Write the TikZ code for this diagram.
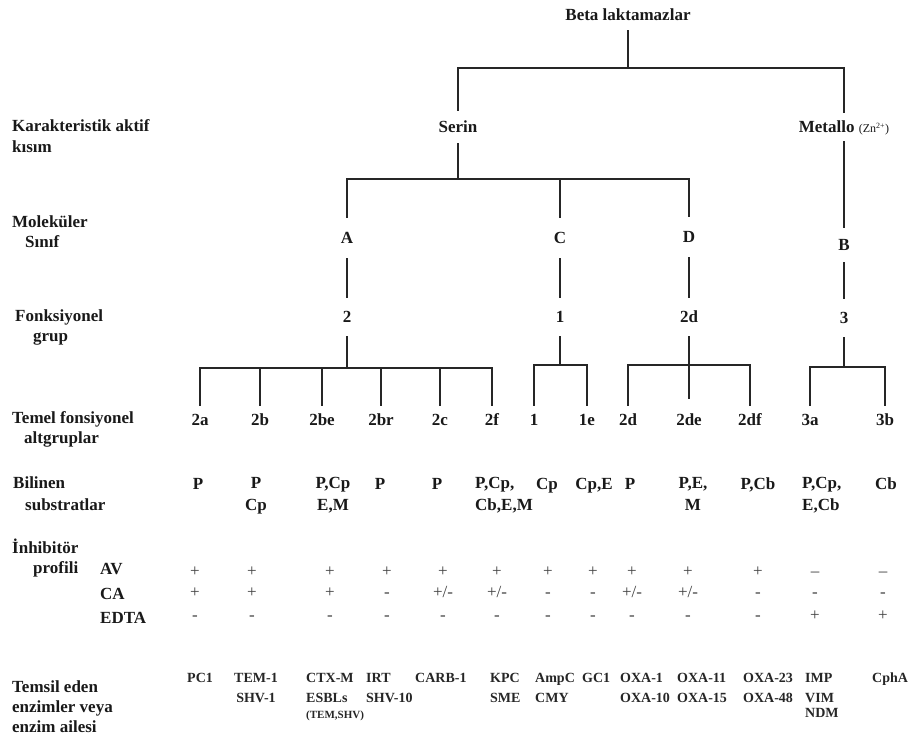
\documentclass[tikz,border=0pt]{standalone}
\usepackage{fontspec}
\setmainfont{Liberation Serif}
\newcommand\pmsgn{+/-}
\begin{document}
\begin{tikzpicture}[x=1pt,y=-1pt,
  every node/.style={font=\bfseries\fontsize{17}{20}\selectfont, text=black!90, inner sep=0pt},
  tree/.style={line width=2pt, draw=black!85},
  hdr/.style={anchor=base west, align=left},
  lab/.style={text height=11.5pt, text depth=0pt},
  lvl/.style={lab, minimum height=40pt},
  grp/.style={lab, minimum height=38pt},
  sub/.style={lab, minimum height=28pt},
  subst/.style={anchor=base, align=center, font=\bfseries\fontsize{17}{22}\selectfont},
  substl/.style={subst, anchor=base west, align=left},
  sign/.style={font=\mdseries\fontsize{17}{20}\selectfont, text=black!75, text height=8.5pt, text depth=0pt},
  enz/.style={anchor=base west, align=left, text=black!85, font=\bfseries\fontsize{14}{20}\selectfont},
  enzc/.style={enz, anchor=base, align=center}
]
\useasboundingbox (0,0) rectangle (911,735);

% row headers (base = baseline of last line)
\node[hdr] (hk) at (12,153) {Karakteristik aktif\\[1pt]kısım};
\node[hdr] (hm) at (12,248) {Moleküler\\\hspace*{13pt}Sınıf};
\node[hdr] (hf) at (15,342) {Fonksiyonel\\\hspace*{18pt}grup};
\node[hdr] (ht) at (12,443) {Temel fonsiyonel\\\hspace*{12pt}altgruplar};
\node[hdr] (hb) at (13,510) {Bilinen\\[2pt]\hspace*{12pt}substratlar};
\node[hdr] (hi) at (12,573) {İnhibitör\\\hspace*{21pt}profili};
\node[hdr] (hav) at (100,574) {AV};
\node[hdr] (hca) at (100,599) {CA};
\node[hdr] (hed) at (100,623) {EDTA};
\node[hdr] (hte) at (12,732) {Temsil eden\\enzimler veya\\enzim ailesi};

% tree nodes
\node[lab, minimum height=30pt] (beta) at (628,15) {Beta laktamazlar};
\node[lab, minimum height=32pt] (serin) at (458,127) {Serin};
\node[lab, minimum height=28pt] (metallo) at (844,127) {Metallo {\mdseries\fontsize{12}{14}\selectfont(Zn\textsuperscript{2+})}};
\node[lvl] (A) at (347,238) {A};
\node[lvl] (C) at (560,238) {C};
\node[lvl] (D) at (689,237) {D};
\node[lab, minimum height=34pt] (B) at (844,245) {B};
\node[grp] (g2) at (347,317) {2};
\node[grp] (g1) at (560,317) {1};
\node[grp] (g2d) at (689,317) {2d};
\node[grp] (g3) at (844,318) {3};

\node[sub] (s2a) at (200,420) {2a};
\node[sub] (s2b) at (260,420) {2b};
\node[sub] (s2be) at (322,420) {2be};
\node[sub] (s2br) at (381,420) {2br};
\node[sub] (s2c) at (440,420) {2c};
\node[sub] (s2f) at (492,420) {2f};
\node[sub] (s1) at (534,420) {1};
\node[sub] (s1e) at (587,420) {1e};
\node[sub] (s2d) at (628,420) {2d};
\node[sub] (s2de) at (689,420) {2de};
\node[sub] (s2df) at (750,420) {2df};
\node[sub] (s3a) at (810,420) {3a};
\node[sub] (s3b) at (885,420) {3b};

% connectors
\coordinate (top) at (628,68);
\coordinate (serbar) at (458,179);
\coordinate (barA) at (347,368);
\coordinate (barC) at (560,365);
\coordinate (barD) at (689,365);
\coordinate (barB) at (844,367);
\draw[tree] (beta.south) -- (top);
\draw[tree] (serin.north) |- (top) -| (metallo.north);
\draw[tree] (serin.south) -- (serbar);
\draw[tree] (A.north) |- (serbar) -| (D.north);
\draw[tree] (C.north) -- (C.north |- serbar);
\draw[tree] (A.south) -- (g2.north);
\draw[tree] (C.south) -- (g1.north);
\draw[tree] (D.south) -- (g2d.north);
\draw[tree] (metallo.south) -- (B.north);
\draw[tree] (B.south) -- (g3.north);
\draw[tree] (g2.south) -- (barA);
\draw[tree] (s2a.north) |- (barA) -| (s2f.north);
\foreach \n in {s2b,s2be,s2br,s2c} \draw[tree] (\n.north) -- (\n.north |- barA);
\draw[tree] (g1.south) -- (barC);
\draw[tree] (s1.north) |- (barC) -| (s1e.north);
\draw[tree] (g2d.south) -- (barD);
\draw[tree] (s2d.north) |- (barD) -| (s2df.north);
\draw[tree] ([yshift=7pt]s2de.north) -- (s2de.north |- barD);
\draw[tree] (g3.south) -- (barB);
\draw[tree] (s3a.north) |- (barB) -| (s3b.north);

% substrates
\node[subst] (b2a) at (198,489) {P};
\node[subst] (b2b) at (256,510) {P\\Cp};
\node[subst] (b2be) at (333,510) {P,Cp\\E,M};
\node[subst] (b2br) at (380,489) {P};
\node[subst] (b2c) at (437,489) {P};
\node[substl] (b2f) at (475,510) {P,Cp,\\Cb,E,M};
\node[subst] (b1) at (547,489) {Cp};
\node[subst] (b1e) at (594,489) {Cp,E};
\node[subst] (b2d) at (630,489) {P};
\node[subst] (b2de) at (693,510) {P,E,\\M};
\node[subst] (b2df) at (758,489) {P,Cb};
\node[substl] (b3a) at (802,510) {P,Cp,\\E,Cb};
\node[subst] (b3b) at (886,489) {Cb};

% inhibitor profile
\foreach \x/\s [count=\i] in {195/+,252/+,330/+,387/+,443/+,497/+,548/+,593/+,632/+,688/+,758/+,815/\textendash,883/\textendash}
  \node[sign] (av\i) at (\x,572) {\s};
\foreach \x/\s [count=\i] in {195/+,252/+,330/+,387/-,443/\pmsgn,497/\pmsgn,548/-,593/-,632/\pmsgn,688/\pmsgn,758/-,815/-,883/-}
  \node[sign] (ca\i) at (\x,593) {\s};
\foreach \x/\s [count=\i] in {195/-,252/-,330/-,387/-,443/-,497/-,548/-,593/-,632/-,688/-,758/-,815/+,883/+}
  \node[sign] (ed\i) at (\x,616) {\s};

% representative enzymes (base = baseline of last line)
\node[enz] (e2a) at (187,682) {PC1};
\node[enzc] (e2b) at (256,702) {TEM-1\\SHV-1};
\node[enz] (e2be) at (306,718) {CTX-M\\ESBLs\\[-4pt]{\fontsize{11}{13}\selectfont(TEM,SHV)}};
\node[enz] (e2br) at (366,702) {IRT\\SHV-10};
\node[enz] (e2c) at (415,682) {CARB-1};
\node[enz] (e2f) at (490,702) {KPC\\SME};
\node[enz] (e1) at (535,702) {AmpC\\CMY};
\node[enz] (e1e) at (582,682) {GC1};
\node[enz] (e2d) at (620,702) {OXA-1\\OXA-10};
\node[enz] (e2de) at (677,702) {OXA-11\\OXA-15};
\node[enz] (e2df) at (743,702) {OXA-23\\OXA-48};
\node[enz] (e3a) at (805,717) {IMP\\VIM\\[-5pt]NDM};
\node[enz] (e3b) at (872,682) {CphA};
\end{tikzpicture}
\end{document}
